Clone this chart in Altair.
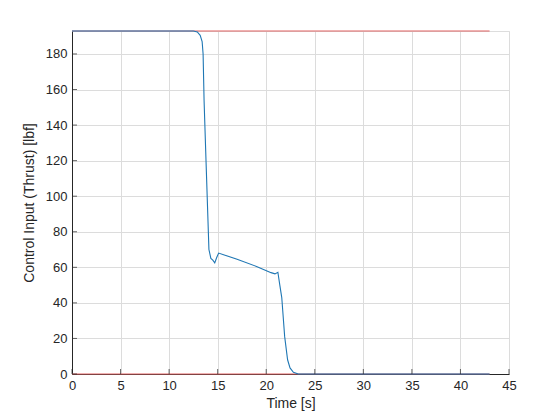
import altair as alt
import pandas as pd

# Control input (thrust) time history
time = [0, 12.5, 12.9, 13.2, 13.4, 13.5, 13.6, 13.8, 14.1, 14.3, 14.5, 14.7, 14.9, 15.1,
        17.0, 19.0, 20.5, 20.9, 21.2, 21.4, 21.6, 21.9, 22.2, 22.45, 22.8, 23.3, 43]
thrust = [192.9, 192.9, 192.4, 190.5, 187, 180, 154, 120, 70, 65, 64, 62.5, 65.5, 68,
          64.5, 60.5, 57, 56.3, 57.2, 50, 43, 21, 8, 3.4, 1, 0, 0]

# Saturation limits
limit_time = [0, 43]
u_max = 192.9
u_min = 0

x_ticks = [0, 5, 10, 15, 20, 25, 30, 35, 40, 45]
y_ticks = [0, 20, 40, 60, 80, 100, 120, 140, 160, 180]

df = pd.DataFrame({"t": time, "u": thrust})
lim = pd.DataFrame({
    "t": limit_time + limit_time,
    "u": [u_max, u_max, u_min, u_min],
    "g": ["max", "max", "min", "min"],
})
xt = pd.DataFrame({"t": x_ticks, "u": [0] * len(x_ticks)})
yt = pd.DataFrame({"t": [0] * len(y_ticks), "u": y_ticks})

xs = alt.Scale(domain=[0, 45], nice=False, zero=False)
ys = alt.Scale(domain=[0, 192.9], nice=False, zero=False)

FONT = "Liberation Sans"
AX = "#262626"

x_axis = alt.Axis(values=x_ticks, title="Time [s]", grid=True, gridColor="#dcdcdc",
                  ticks=False, domainColor=AX, labelColor=AX, titleColor=AX,
                  labelFont=FONT, titleFont=FONT, labelFontSize=13, titleFontSize=14,
                  titleFontWeight="normal", labelPadding=5, titlePadding=4,
                  labelFlush=False, labelOverlap=False)
y_axis = alt.Axis(values=y_ticks, title="Control Input (Thrust) [lbf]", grid=True,
                  gridColor="#dcdcdc", ticks=False, domainColor=AX, labelColor=AX,
                  titleColor=AX, labelFont=FONT, titleFont=FONT, labelFontSize=13,
                  titleFontSize=14, titleFontWeight="normal", labelPadding=5,
                  titlePadding=9, labelFlush=False, labelOverlap=False)

X = alt.X("t:Q", scale=xs, axis=x_axis)
Y = alt.Y("u:Q", scale=ys, axis=y_axis)

limits = alt.Chart(lim).mark_line(color="#e06060", strokeWidth=1).encode(
    x=X, y=Y, detail="g:N",
)

signal = alt.Chart(df).mark_line(color="#1f77b4", strokeWidth=1.1).encode(x=X, y=Y)

xtick = alt.Chart(xt).mark_tick(color=AX, size=5, thickness=1, orient="vertical",
                                yOffset=-2.5).encode(x=X, y=Y)
ytick = alt.Chart(yt).mark_tick(color=AX, size=5, thickness=1, orient="horizontal",
                                xOffset=2.5).encode(x=X, y=Y)

chart = alt.layer(limits, signal, xtick, ytick).properties(
    width=437, height=343,
    autosize=alt.AutoSizeParams(type="none"),
    padding={"left": 64, "top": 23, "right": 43, "bottom": 38},
).configure_view(stroke=None).configure(background="white")

chart.save("out.html", embed_options={"renderer": "svg", "actions": False})
